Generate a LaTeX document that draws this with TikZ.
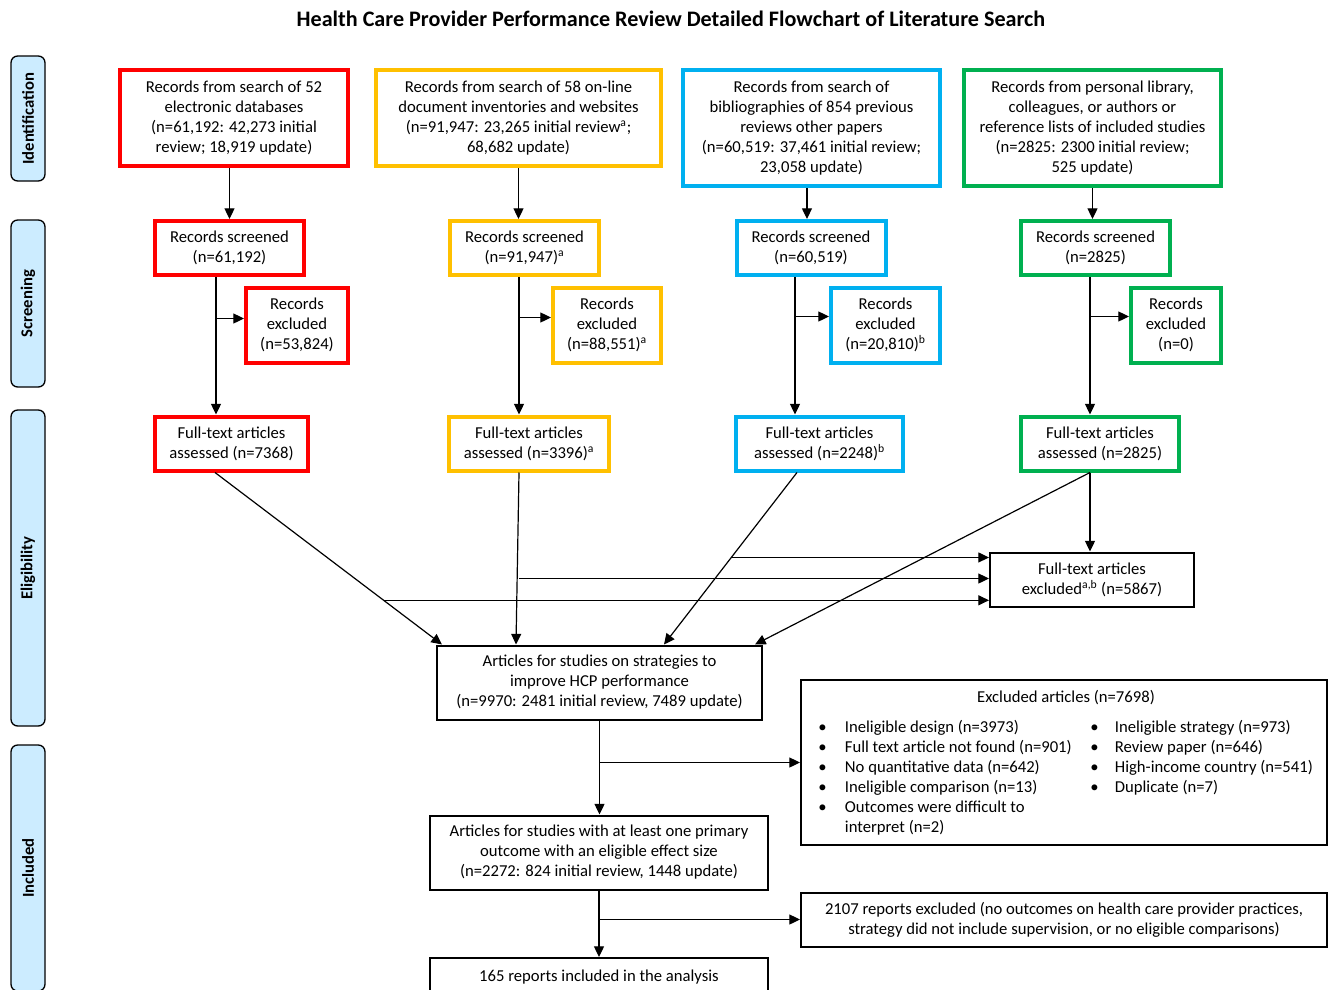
\documentclass[tikz,border=0pt]{standalone}
\usepackage{fontspec}
\setmainfont{Carlito}
\usetikzlibrary{arrows.meta,calc}
\definecolor{cred}{RGB}{255,0,0}
\definecolor{cyel}{RGB}{255,192,0}
\definecolor{cblu}{RGB}{0,176,240}
\definecolor{cgrn}{RGB}{0,176,80}
\definecolor{lblue}{RGB}{204,236,255}
\begin{document}
\begin{tikzpicture}[x=0.75pt,y=-0.75pt,
  txt/.style={font=\fontsize{12.5}{15}\selectfont},
  box/.style={draw, align=center, inner sep=0pt, txt, fill=white},
  cbox/.style={box, line width=3pt, draw=#1},
  kbox/.style={box, line width=1.5pt},
  phase/.style={draw, line width=1pt, rounded corners=5pt, fill=lblue, rotate=90,
    minimum height=25.5pt, inner sep=0pt, font=\bfseries\fontsize{12.5}{15}\selectfont},
  arr/.style={line width=0.9pt, -{Triangle[length=8pt,width=7.5pt]}}]
\useasboundingbox (0,0) rectangle (1328,989);
\clip (0,0) rectangle (1328,989);
\fill[white] (0,0) rectangle (1328,989);

\node[font=\bfseries\fontsize{16.6}{19}\selectfont] (title) at (671,19)
  {Health Care Provider Performance Review Detailed Flowchart of Literature Search};

% phase labels
\node[phase, minimum width=93.75pt] (pid) at (28,118.5) {Identification};
\node[phase, minimum width=125.25pt] (psc) at (28,303.5) {Screening};
\node[phase, minimum width=237pt] (pel) at (28,568) {Eligibility};
\node[phase, minimum width=184.5pt] (pin) at (28,868) {Included};

% top boxes
\node[cbox=cred, minimum width=171pt, minimum height=72pt] (rtop) at (234,118)
  {Records from search of 52\\electronic databases\\(n=61,192: 42,273 initial\\review; 18,919 update)};
\node[cbox=cyel, minimum width=213.75pt, minimum height=72pt] (ytop) at (518.5,118)
  {Records from search of 58 on-line\\document inventories and websites\\(n=91,947: 23,265 initial review\textsuperscript{a};\\68,682 update)};
\node[cbox=cblu, minimum width=192.75pt, minimum height=87pt] (btop) at (811.5,128)
  {Records from search of\\bibliographies of 854 previous\\reviews other papers\\(n=60,519: 37,461 initial review;\\23,058 update)};
\node[cbox=cgrn, minimum width=192.75pt, minimum height=87pt] (gtop) at (1092.5,128)
  {Records from personal library,\\colleagues, or authors or\\reference lists of included studies\\(n=2825: 2300 initial review;\\525 update)};

% screened
\node[cbox=cred, minimum width=111.75pt, minimum height=40.5pt] (rscr) at (229.5,248) {Records screened\\(n=61,192)};
\node[cbox=cyel, minimum width=111.75pt, minimum height=40.5pt] (yscr) at (524.5,248) {Records screened\\(n=91,947)\textsuperscript{a}};
\node[cbox=cblu, minimum width=111.75pt, minimum height=40.5pt] (bscr) at (811,248) {Records screened\\(n=60,519)};
\node[cbox=cgrn, minimum width=111.75pt, minimum height=40.5pt] (gscr) at (1095.5,248) {Records screened\\(n=2825)};

% records excluded
\node[cbox=cred, minimum width=76.5pt, minimum height=56.25pt] (rexc) at (297,325) {Records\\excluded\\(n=53,824)};
\node[cbox=cyel, minimum width=81pt, minimum height=56.25pt] (yexc) at (607,325) {Records\\excluded\\(n=88,551)\textsuperscript{a}};
\node[cbox=cblu, minimum width=81.75pt, minimum height=56.25pt] (bexc) at (885.5,325) {Records\\excluded\\(n=20,810)\textsuperscript{b}};
\node[cbox=cgrn, minimum width=67.5pt, minimum height=56.25pt] (gexc) at (1176,325) {Records\\excluded\\(n=0)};

% full text assessed
\node[cbox=cred, minimum width=114.75pt, minimum height=40.5pt] (rft) at (231.5,443.5) {Full-text articles\\assessed (n=7368)};
\node[cbox=cyel, minimum width=120pt, minimum height=40.5pt] (yft) at (529,443.5) {Full-text articles\\assessed (n=3396)\textsuperscript{a}};
\node[cbox=cblu, minimum width=125.25pt, minimum height=40.5pt] (bft) at (819.5,443.5) {Full-text articles\\assessed (n=2248)\textsuperscript{b}};
\node[cbox=cgrn, minimum width=118.5pt, minimum height=40.5pt] (gft) at (1100,443.5) {Full-text articles\\assessed (n=2825)};

% black boxes
\node[kbox, minimum width=153pt, minimum height=40.5pt] (ftx) at (1092,579.5) {Full-text articles\\excluded\textsuperscript{a,b} (n=5867)};
\node[kbox, minimum width=243.75pt, minimum height=55.5pt] (art) at (599.5,682.5)
  {Articles for studies on strategies to\\improve HCP performance\\(n=9970: 2481 initial review, 7489 update)};
\node[kbox, minimum width=394.5pt, minimum height=123.75pt] (exa) at (1064,762.5) {};
\node[txt, anchor=base] (exat) at (1066,702) {Excluded articles (n=7698)};
\node[txt, anchor=north west, inner sep=0pt] (exl) at (818,718)
  {\begin{tabular}{@{}p{20pt}@{}l@{}}
  \textbullet & Ineligible design (n=3973)\\
  \textbullet & Full text article not found (n=901)\\
  \textbullet & No quantitative data (n=642)\\
  \textbullet & Ineligible comparison (n=13)\\
  \textbullet & Outcomes were difficult to\\
   & interpret (n=2)
  \end{tabular}};
\node[txt, anchor=north west, inner sep=0pt] (exr) at (1090,718)
  {\begin{tabular}{@{}p{18.5pt}@{}l@{}}
  \textbullet & Ineligible strategy (n=973)\\
  \textbullet & Review paper (n=646)\\
  \textbullet & High-income country (n=541)\\
  \textbullet & Duplicate (n=7)
  \end{tabular}};
\node[kbox, minimum width=253.5pt, minimum height=55.5pt] (art2) at (599,852.5)
  {Articles for studies with at least one primary\\outcome with an eligible effect size\\(n=2272: 824 initial review, 1448 update)};
\node[kbox, minimum width=394.5pt, minimum height=40.5pt] (rep) at (1064,919.5)
  {2107 reports excluded (no outcomes on health care provider practices,\\strategy did not include supervision, or no eligible comparisons)};
\node[kbox, anchor=north, minimum width=253.5pt, text height=9pt, text depth=30pt, inner ysep=8.5pt] (fin) at (599,957)
  {165 reports included in the analysis};

% identification -> screening
\draw[arr] (rtop.south -| rscr.north) -- (rscr.north);
\draw[arr] (ytop.south) -- (ytop.south |- yscr.north);
\draw[arr] ([xshift=-3.4pt]btop.south) -- ([xshift=-3.4pt]btop.south |- bscr.north);
\draw[arr] (gtop.south) -- (gtop.south |- gscr.north);

% screening -> full text, with exclusions
\coordinate (rs) at ($(rscr.south)+(-13.5,0)$);
\coordinate (re) at ($(rexc.west)+(0,-6.5)$);
\draw[arr] (rs) -- (rs |- rft.north);
\draw[arr] (rs |- re) -- (re);
\coordinate (ys) at ($(yscr.south)+(-5.5,0)$);
\coordinate (ye) at ($(yexc.west)+(0,-7.5)$);
\draw[arr] (ys) -- (ys |- yft.north);
\draw[arr] (ys |- ye) -- (ye);
\coordinate (bs) at ($(bscr.south)+(-16,0)$);
\coordinate (be) at ($(bexc.west)+(0,-8.5)$);
\draw[arr] (bs) -- (bs |- bft.north);
\draw[arr] (bs |- be) -- (be);
\coordinate (gs) at ($(gscr.south)+(-5.5,0)$);
\coordinate (ge) at ($(gexc.west)+(0,-8.5)$);
\draw[arr] (gs) -- (gs |- gft.north);
\draw[arr] (gs |- ge) -- (ge);

% eligibility
\coordinate (rf) at ($(rft.south)+(-16.5,0)$);
\coordinate (ra) at ($(art.north west)+(6,0)$);
\draw[arr] (rf) -- (ra);
\coordinate (rx) at ($(rf)!0.743!(ra)$);
\draw[arr] (rx) -- (rx -| ftx.west);

\coordinate (yf) at ($(yft.south)+(-10,0)$);
\coordinate (ya) at ($(art.north)+(-83.5,0)$);
\draw[arr] (yf) -- (ya);
\coordinate (yx) at ($(yf)+(0,106)$);
\draw[arr] (yx) -- (yx -| ftx.west);

\coordinate (bf) at ($(bft.south)+(-22.5,0)$);
\coordinate (ba) at ($(art.north)+(64.5,0)$);
\draw[arr] (bf) -- (ba);
\coordinate (bx) at ($(bf)!0.494!(ba)$);
\draw[arr] (bx) -- (bx -| ftx.west);

\coordinate (gf) at ($(gft.south)+(-10,0)$);
\draw[arr] (gf) -- (gf |- ftx.north);
\draw[arr] (gf) -- ($(art.north east)+(-8,0)$);

% included
\draw[arr] (art.south) -- (art.south |- art2.north);
\draw[arr] (art.south |- exa.west) -- (exa.west);
\draw[arr] (art2.south) -- (art2.south |- fin.north);
\draw[arr] (art2.south |- rep.west) -- (rep.west);
\end{tikzpicture}
\end{document}
